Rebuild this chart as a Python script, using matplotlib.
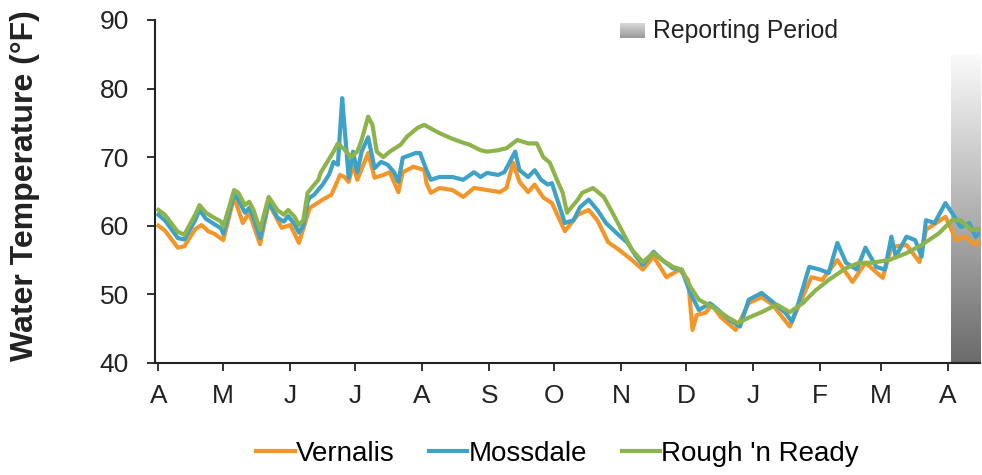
import numpy as np
import matplotlib
matplotlib.use("Agg")
import matplotlib.pyplot as plt
from matplotlib.lines import Line2D

# ── Data (day offset from 1 April) ───────────────────────────────────────────
month_days = [0, 30, 61, 91, 122, 153, 183, 214, 244, 275, 306, 334, 365]
month_labels = ["A", "M", "J", "J", "A", "S", "O", "N", "D", "J", "F", "M", "A"]

green_day = [0, 3, 9, 12, 17, 19, 22, 25, 29, 30, 35, 37, 40, 42, 44, 47, 51, 55, 58, 60,
             63, 65, 67, 69, 74, 75, 81, 83, 87, 89, 92, 94, 97, 99, 101, 104, 107, 112,
             115, 120, 123, 127, 130, 135, 140, 144, 149, 152, 157, 161, 166, 171, 175,
             178, 181, 185, 187, 189, 190, 194, 196, 201, 206, 210, 215, 219, 224, 229,
             233, 238, 242, 246, 250, 256, 263, 268, 273, 279, 286, 292, 298, 304, 310,
             318, 324, 330, 338, 346, 353, 361, 367, 371, 376, 380]
green_val = [62.3, 61.6, 59.1, 58.7, 61.6, 63.0, 61.9, 61.3, 60.6, 59.8, 65.2, 64.8, 63.0,
             63.5, 62.3, 59.4, 64.2, 62.3, 61.6, 62.3, 61.3, 60.1, 60.8, 64.8, 66.7, 67.7,
             70.8, 72.0, 70.8, 70.0, 70.8, 72.5, 75.9, 74.7, 70.8, 70.0, 70.8, 71.8, 73.0,
             74.3, 74.7, 74.0, 73.5, 72.8, 72.2, 71.8, 71.0, 70.8, 71.0, 71.3, 72.5, 72.0,
             72.0, 70.0, 69.2, 66.2, 64.8, 61.9, 62.3, 63.8, 64.8, 65.5, 64.2, 61.9, 58.9,
             56.5, 54.7, 56.0, 55.0, 54.0, 53.6, 51.1, 49.2, 48.2, 46.7, 45.8, 46.6, 47.4,
             48.5, 47.4, 48.7, 50.6, 52.1, 53.8, 54.6, 54.6, 55.0, 56.0, 57.2, 58.9, 60.8,
             60.8, 59.4, 59.5]

blue_day = [0, 3, 9, 12, 17, 19, 22, 25, 29, 30, 35, 37, 40, 42, 44, 47, 51, 55, 58, 60,
            63, 65, 67, 69, 70, 72, 76, 79, 81, 83, 85, 86, 88, 90, 92, 94, 97, 100, 103,
            106, 109, 111, 113, 119, 121, 124, 126, 130, 136, 141, 146, 149, 152, 157, 160,
            165, 167, 171, 174, 177, 180, 182, 188, 192, 195, 199, 203, 207, 212, 217, 221,
            224, 229, 233, 238, 242, 246, 250, 255, 259, 264, 269, 273, 279, 284, 290, 293,
            296, 301, 306, 310, 314, 318, 323, 327, 332, 336, 339, 341, 346, 350, 353, 355,
            359, 364, 367, 371, 375, 378, 380]
blue_val = [61.6, 60.8, 58.2, 58.0, 60.8, 62.3, 61.0, 60.4, 59.6, 58.8, 64.6, 63.8, 61.9,
            62.6, 61.2, 58.2, 63.6, 61.2, 60.6, 61.4, 60.2, 59.0, 60.0, 63.5, 64.1, 64.5,
            66.0, 67.5, 69.3, 68.9, 78.6, 74.7, 67.0, 70.8, 67.8, 70.8, 72.9, 68.4, 69.3,
            68.9, 67.8, 66.4, 69.9, 70.6, 70.6, 68.1, 66.7, 67.1, 67.1, 66.7, 67.8, 67.1,
            67.7, 67.4, 67.8, 70.8, 68.1, 67.1, 68.1, 66.7, 66.0, 66.2, 60.4, 60.8, 62.7,
            63.8, 62.3, 60.4, 58.9, 57.5, 55.5, 54.3, 56.2, 55.0, 53.8, 53.6, 50.2, 47.7,
            48.7, 47.7, 46.3, 45.3, 49.2, 50.2, 48.9, 47.3, 46.0, 48.7, 54.0, 53.6, 53.1,
            57.5, 54.6, 53.6, 56.8, 54.0, 53.6, 58.4, 55.5, 58.4, 57.9, 55.5, 60.8, 60.4,
            63.3, 61.9, 59.8, 60.4, 58.4, 59.0]

orange_day = [0, 3, 9, 12, 17, 20, 23, 26, 30, 35, 39, 42, 47, 51, 57, 61, 65, 70, 76, 80,
              84, 86, 88, 90, 92, 97, 100, 104, 107, 111, 113, 118, 123, 124, 126, 130, 136,
              141, 146, 152, 158, 161, 164, 167, 171, 174, 178, 182, 188, 194, 199, 203, 208,
              213, 219, 224, 229, 235, 241, 245, 247, 249, 253, 256, 260, 267, 273, 279, 284,
              292, 296, 302, 307, 314, 321, 327, 335, 339, 346, 352, 355, 364, 369, 373, 378,
              380]
orange_val = [60.0, 59.3, 56.8, 57.0, 59.5, 60.1, 59.2, 58.8, 57.9, 64.2, 60.4, 61.9, 57.3,
              63.3, 59.7, 60.1, 57.5, 62.6, 63.8, 64.5, 67.4, 67.1, 66.4, 68.9, 66.7, 70.6,
              67.0, 67.4, 67.8, 64.9, 67.8, 68.6, 68.1, 66.2, 64.8, 65.5, 65.2, 64.2, 65.5,
              65.2, 64.9, 65.5, 69.2, 66.4, 64.9, 66.0, 64.1, 63.3, 59.2, 61.6, 62.3, 60.8,
              57.6, 56.5, 55.0, 53.6, 55.5, 52.5, 53.6, 52.1, 44.8, 47.0, 47.3, 48.5, 46.7,
              44.8, 48.7, 49.6, 48.5, 45.3, 48.2, 52.5, 52.1, 55.0, 51.8, 54.6, 52.4, 56.9,
              57.2, 54.7, 59.4, 61.3, 57.9, 58.4, 57.2, 58.0]

report_start = 366.4
report_end = 380

ORANGE = "#F3962A"
BLUE = "#3DA2C6"
GREEN = "#8DB44B"
TEXT = "#222222"

plt.rcParams["font.family"] = "Liberation Sans"

fig = plt.figure(figsize=(9.82, 4.75), dpi=100)
ax = fig.add_axes([0.158, 0.236, 0.84, 0.722])

# reporting period band: vertical grey gradient
grad = np.linspace(0.98, 0.42, 256).reshape(-1, 1)
ax.imshow(grad, cmap="gray", vmin=0, vmax=1, aspect="auto",
          extent=[report_start, report_end, 40, 85], zorder=0)

ax.plot(orange_day, orange_val, color=ORANGE, lw=3, zorder=2)
ax.plot(blue_day, blue_val, color=BLUE, lw=3, zorder=3)
ax.plot(green_day, green_val, color=GREEN, lw=3, zorder=4)

ax.set_xlim(-1.5, 380)
ax.set_ylim(40, 90)
ax.set_yticks([40, 50, 60, 70, 80, 90])
ax.set_xticks(month_days)
ax.set_xticklabels(month_labels)
ax.tick_params(labelsize=19, colors=TEXT, length=6, width=1.3)
ax.tick_params(axis="y", pad=13)
ax.tick_params(axis="x", pad=9)
for side in ["top", "right"]:
    ax.spines[side].set_visible(False)
for side in ["left", "bottom"]:
    ax.spines[side].set_linewidth(1.5)
    ax.spines[side].set_color(TEXT)
ax.set_ylabel("Water Temperature (°F)", fontsize=23, fontweight="bold", color=TEXT)
ax.yaxis.set_label_coords(-0.139, 0.516)

# bottom legend
handles = [Line2D([], [], color=c, lw=3) for c in (ORANGE, BLUE, GREEN)]
fig.legend(handles, ["Vernalis", "Mossdale", "Rough 'n Ready"], loc="lower center",
           bbox_to_anchor=(0.568, -0.035), ncol=3, frameon=False, fontsize=20,
           handlelength=1.37, handletextpad=0.05, columnspacing=1.25)

# reporting period key
kax = fig.add_axes([620 / 982, 1 - 38 / 475, 25 / 982, 15 / 475])
kax.imshow(np.linspace(0.85, 0.6, 32).reshape(-1, 1), cmap="gray", vmin=0, vmax=1,
           aspect="auto")
kax.axis("off")
fig.text(653 / 982, 1 - 31 / 475, "Reporting Period", fontsize=17.8, va="center",
         color=TEXT)

fig.savefig("out.png", dpi=100)
